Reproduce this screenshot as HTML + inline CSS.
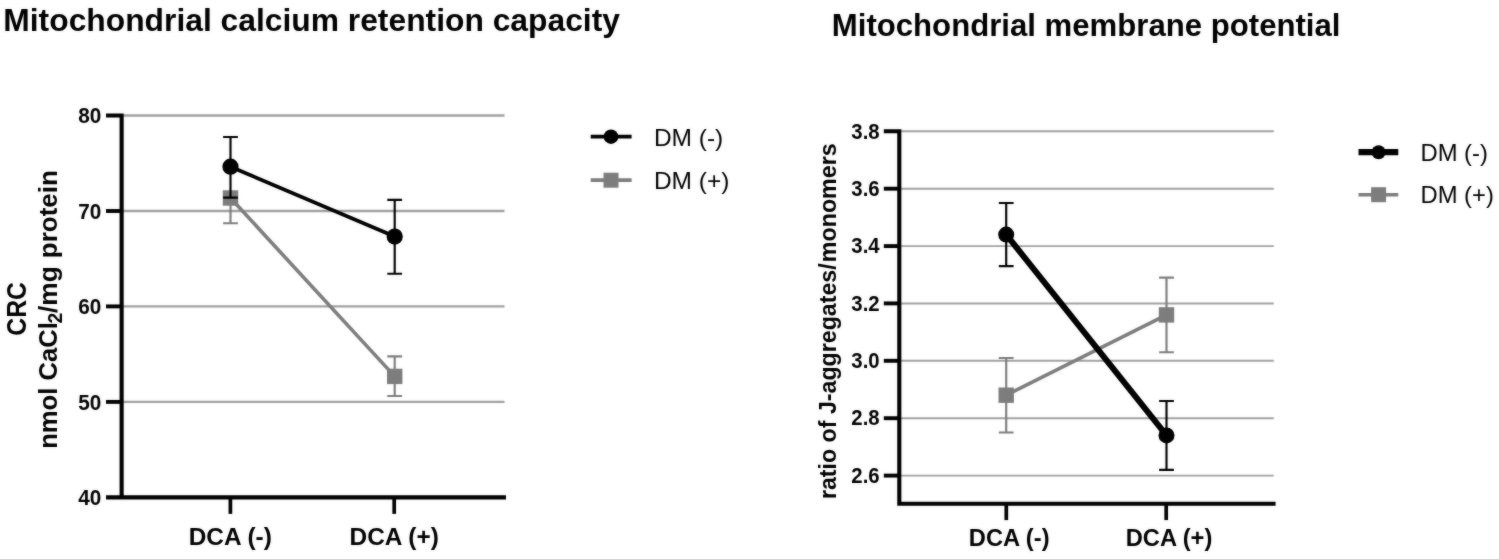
<!DOCTYPE html>
<html><head><meta charset="utf-8"><title>chart</title>
<style>
html,body{margin:0;padding:0;background:#fff;}
body{width:1499px;height:559px;overflow:hidden;}
svg{display:block;will-change:transform;}
text{font-family:"Liberation Sans",sans-serif;fill:#000;}
.b{font-weight:bold;}
</style></head><body>
<svg width="1499" height="559" viewBox="0 0 1499 559">
<defs><filter id="soft" x="0" y="0" width="1499" height="559" filterUnits="userSpaceOnUse" color-interpolation-filters="sRGB"><feGaussianBlur in="SourceGraphic" stdDeviation="0.8" result="b"/><feComposite in="SourceGraphic" in2="b" operator="arithmetic" k1="0" k2="0.62" k3="0.38" k4="0"/></filter></defs>
<g filter="url(#soft)">
<rect width="1499" height="559" fill="#fff"/>
<text class="b" x="3.3" y="30.9" font-size="31.8">Mitochondrial calcium retention capacity</text><line x1="123" y1="115.5" x2="504.5" y2="115.5" stroke="#a0a0a0" stroke-width="2.35"/><line x1="123" y1="211.0" x2="504.5" y2="211.0" stroke="#a0a0a0" stroke-width="2.35"/><line x1="123" y1="306.4" x2="504.5" y2="306.4" stroke="#a0a0a0" stroke-width="2.35"/><line x1="123" y1="401.9" x2="504.5" y2="401.9" stroke="#a0a0a0" stroke-width="2.35"/><path d="M106 115.5H121.63V497.4H506M106 497.4H121.63" stroke="#000" stroke-width="4.1" fill="none" stroke-linejoin="miter"/><line x1="106" y1="211.0" x2="122" y2="211.0" stroke="#000" stroke-width="3.9"/><line x1="106" y1="306.4" x2="122" y2="306.4" stroke="#000" stroke-width="3.9"/><line x1="106" y1="401.9" x2="122" y2="401.9" stroke="#000" stroke-width="3.9"/><text class="b" transform="translate(101.4,123.2) scale(0.97,1)" font-size="21.4" text-anchor="end">80</text><text class="b" transform="translate(101.4,218.7) scale(0.97,1)" font-size="21.4" text-anchor="end">70</text><text class="b" transform="translate(101.4,314.1) scale(0.97,1)" font-size="21.4" text-anchor="end">60</text><text class="b" transform="translate(101.4,409.6) scale(0.97,1)" font-size="21.4" text-anchor="end">50</text><text class="b" transform="translate(101.4,505.1) scale(0.97,1)" font-size="21.4" text-anchor="end">40</text><line x1="230.4" y1="497.4" x2="230.4" y2="513.9" stroke="#000" stroke-width="3.7"/><line x1="394.2" y1="497.4" x2="394.2" y2="513.9" stroke="#000" stroke-width="3.7"/><text class="b" x="230.3" y="544.7" font-size="24.4" text-anchor="middle">DCA (-)</text><text class="b" x="394.2" y="544.7" font-size="24.4" text-anchor="middle">DCA (+)</text><text class="b" font-size="24.8" text-anchor="middle" transform="translate(25.7,308.9) rotate(-90) scale(1,1.1)">CRC</text><text class="b" font-size="25.6" transform="translate(56.8,448.8) rotate(-90)">nmol CaCl</text><text class="b" font-size="19.5" transform="translate(62.199999999999996,323.5) rotate(-90)">2</text><text class="b" font-size="26.3" transform="translate(56.8,313.0) rotate(-90)">/mg</text><text class="b" font-size="26.0" transform="translate(56.8,258.2) rotate(-90)">protein</text><path d="M223.1 223.2H237.9M230.5 198V223.2" stroke="#7d7d7d" stroke-width="2.15" fill="none"/><path d="M387.3 356.3H402.1M387.3 396.0H402.1M394.7 356.3V396.0" stroke="#7d7d7d" stroke-width="2.15" fill="none"/><line x1="230.5" y1="198.0" x2="394.7" y2="376.4" stroke="#7d7d7d" stroke-width="3.6"/><rect x="222.8" y="190.3" width="15.4" height="15.4" fill="#7d7d7d"/><rect x="387.0" y="368.7" width="15.4" height="15.4" fill="#7d7d7d"/><path d="M223.1 137.0H237.9M223.1 197.6H237.9M230.5 137.0V197.6" stroke="#000" stroke-width="2.15" fill="none"/><path d="M387.3 199.8H402.1M387.3 273.7H402.1M394.7 199.8V273.7" stroke="#000" stroke-width="2.15" fill="none"/><line x1="230.5" y1="166.7" x2="394.7" y2="236.6" stroke="#000" stroke-width="3.8"/><circle cx="230.5" cy="166.7" r="8.1" fill="#000"/><circle cx="394.7" cy="236.6" r="8.1" fill="#000"/><line x1="590.7" y1="136.7" x2="631.6" y2="136.7" stroke="#000" stroke-width="3.8"/><circle cx="611" cy="136.7" r="7.3" fill="#000"/><line x1="590.7" y1="180.1" x2="631.6" y2="180.1" stroke="#7d7d7d" stroke-width="3.6"/><rect x="603.5" y="172.7" width="15" height="15" fill="#7d7d7d"/><text x="653.9" y="145.5" font-size="24.5">DM (-)</text><text x="653.9" y="188.8" font-size="24.5">DM (+)</text><text class="b" x="831.8" y="36.3" font-size="31.15">Mitochondrial membrane potential</text><line x1="900" y1="131.3" x2="1273.8" y2="131.3" stroke="#a0a0a0" stroke-width="1.95"/><line x1="900" y1="188.7" x2="1273.8" y2="188.7" stroke="#a0a0a0" stroke-width="1.95"/><line x1="900" y1="246.1" x2="1273.8" y2="246.1" stroke="#a0a0a0" stroke-width="1.95"/><line x1="900" y1="303.4" x2="1273.8" y2="303.4" stroke="#a0a0a0" stroke-width="1.95"/><line x1="900" y1="360.8" x2="1273.8" y2="360.8" stroke="#a0a0a0" stroke-width="1.95"/><line x1="900" y1="418.2" x2="1273.8" y2="418.2" stroke="#a0a0a0" stroke-width="1.95"/><line x1="900" y1="475.6" x2="1273.8" y2="475.6" stroke="#a0a0a0" stroke-width="1.95"/><path d="M883.8 131.3H899.3V503.8H1275.6" stroke="#000" stroke-width="4.1" fill="none" stroke-linejoin="miter"/><text class="b" transform="translate(879.6,138.5) scale(0.955,1)" font-size="21.3" text-anchor="end">3.8</text><line x1="883.8" y1="188.7" x2="899.5" y2="188.7" stroke="#000" stroke-width="3.9"/><text class="b" transform="translate(879.6,195.9) scale(0.955,1)" font-size="21.3" text-anchor="end">3.6</text><line x1="883.8" y1="246.1" x2="899.5" y2="246.1" stroke="#000" stroke-width="3.9"/><text class="b" transform="translate(879.6,253.3) scale(0.955,1)" font-size="21.3" text-anchor="end">3.4</text><line x1="883.8" y1="303.4" x2="899.5" y2="303.4" stroke="#000" stroke-width="3.9"/><text class="b" transform="translate(879.6,310.6) scale(0.955,1)" font-size="21.3" text-anchor="end">3.2</text><line x1="883.8" y1="360.8" x2="899.5" y2="360.8" stroke="#000" stroke-width="3.9"/><text class="b" transform="translate(879.6,368.0) scale(0.955,1)" font-size="21.3" text-anchor="end">3.0</text><line x1="883.8" y1="418.2" x2="899.5" y2="418.2" stroke="#000" stroke-width="3.9"/><text class="b" transform="translate(879.6,425.4) scale(0.955,1)" font-size="21.3" text-anchor="end">2.8</text><line x1="883.8" y1="475.6" x2="899.5" y2="475.6" stroke="#000" stroke-width="3.9"/><text class="b" transform="translate(879.6,482.8) scale(0.955,1)" font-size="21.3" text-anchor="end">2.6</text><line x1="1006.3" y1="503.8" x2="1006.3" y2="520.1" stroke="#000" stroke-width="3.7"/><line x1="1166.2" y1="503.8" x2="1166.2" y2="520.1" stroke="#000" stroke-width="3.7"/><text class="b" x="1009.2" y="545.6" font-size="23.7" text-anchor="middle">DCA (-)</text><text class="b" x="1169" y="545.6" font-size="23.7" text-anchor="middle">DCA (+)</text><text class="b" font-size="23.2" transform="translate(835.6,499.1) rotate(-90)">ratio of J-aggregates/</text><text class="b" font-size="23.3" transform="translate(835.6,262.3) rotate(-90)">monomers</text><path d="M998.8 358.0H1013.6M998.8 432.5H1013.6M1006.2 358.0V432.5" stroke="#7d7d7d" stroke-width="2.15" fill="none"/><path d="M1159.1 277.6H1173.9M1159.1 352.2H1173.9M1166.5 277.6V352.2" stroke="#7d7d7d" stroke-width="2.15" fill="none"/><line x1="1006.2" y1="395.2" x2="1166.5" y2="314.9" stroke="#7d7d7d" stroke-width="3.6"/><rect x="998.5" y="387.5" width="15.4" height="15.4" fill="#7d7d7d"/><rect x="1158.8" y="307.2" width="15.4" height="15.4" fill="#7d7d7d"/><path d="M998.8 203.0H1013.6M998.8 266.1H1013.6M1006.2 203.0V266.1" stroke="#000" stroke-width="2.15" fill="none"/><path d="M1159.1 401.0H1173.9M1159.1 469.8H1173.9M1166.5 401.0V469.8" stroke="#000" stroke-width="2.15" fill="none"/><line x1="1006.2" y1="234.6" x2="1166.5" y2="435.4" stroke="#000" stroke-width="6.0"/><circle cx="1006.2" cy="234.6" r="8.0" fill="#000"/><circle cx="1166.5" cy="435.4" r="8.0" fill="#000"/><line x1="1358.5" y1="152.2" x2="1398.3" y2="152.2" stroke="#000" stroke-width="6.2"/><circle cx="1378.6" cy="152.2" r="7.0" fill="#000"/><line x1="1358.5" y1="194.7" x2="1398.3" y2="194.7" stroke="#7d7d7d" stroke-width="3.6"/><rect x="1371.1" y="187.2" width="15" height="15" fill="#7d7d7d"/><text x="1420.5" y="160.6" font-size="23.8">DM (-)</text><text x="1420.5" y="202.5" font-size="23.8">DM (+)</text></g>
</svg>
</body></html>
